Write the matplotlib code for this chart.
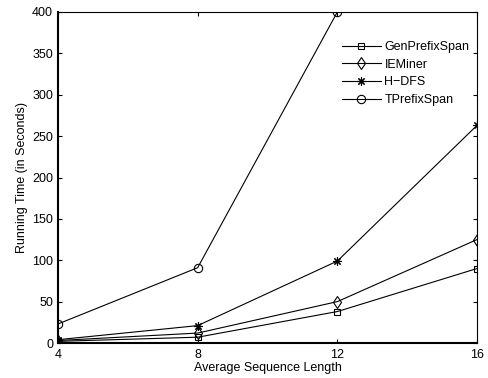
import matplotlib
matplotlib.use("Agg")
import matplotlib.pyplot as plt

plt.rcParams['font.family'] = ['Liberation Sans', 'DejaVu Sans']

lengths = [4, 8, 12, 16]
gen_prefix = [2, 7, 38, 90]
ieminer = [3, 12, 50, 125]
hdfs = [4, 21, 99, 263]
tprefix_x = [4, 8, 12]
tprefix = [23, 91, 400]

fig = plt.figure(figsize=(4.89, 3.78), dpi=100)
ax = fig.add_axes([58 / 489, 35 / 378, 419 / 489, 331 / 378])

asterisk = (8, 2, 0)
ax.plot(lengths, gen_prefix, 'k-', marker='s', mfc='none', ms=4.5, mew=0.8, lw=0.8, label='GenPrefixSpan')
ax.plot(lengths, ieminer, 'k-', marker='d', mfc='none', ms=6.5, mew=0.8, lw=0.8, label='IEMiner')
ax.plot(lengths, hdfs, 'k-', marker=asterisk, mfc='none', ms=6, mew=0.8, lw=0.8, label='H\u2212DFS')
ax.plot(tprefix_x, tprefix, 'k-', marker='o', mfc='none', ms=6, mew=0.8, lw=0.8, label='TPrefixSpan')

ax.set_xlim(4, 16)
ax.set_ylim(0, 400)
ax.set_xticks([4, 8, 12, 16])
ax.set_yticks(range(0, 401, 50))
ax.tick_params(direction='in', labelsize=9, length=3, top=True, right=True)
ax.tick_params(axis='x', pad=4)
ax.spines['left'].set_linewidth(1.5)
ax.spines['bottom'].set_linewidth(1.5)
ax.set_xlabel('Average Sequence Length', fontsize=9, labelpad=1)
ax.set_ylabel('Running Time (in Seconds)', fontsize=9, labelpad=3)

ax.legend(loc='upper right', bbox_to_anchor=(1.0, 0.935), frameon=False, fontsize=9,
          handlelength=3.1, handletextpad=0.3, labelspacing=0.45, borderaxespad=0.2)

fig.savefig('out.png', dpi=100)
